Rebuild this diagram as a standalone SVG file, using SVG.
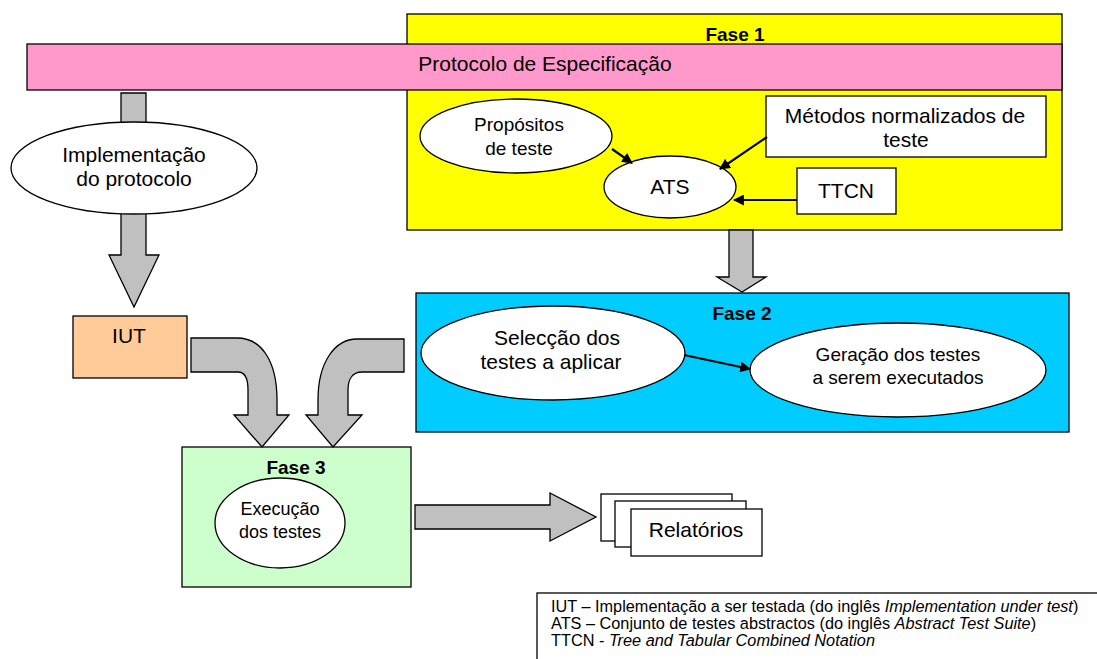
<svg xmlns="http://www.w3.org/2000/svg" width="1097" height="659" viewBox="0 0 1097 659">
<defs>
<style>
text{font-family:"Liberation Sans",Arial,sans-serif;fill:#000;text-anchor:middle}
.b{font-weight:bold;font-size:19px}
.t18{font-size:21px}
.t16{font-size:19px}
.t15{font-size:19px}
.t17{font-size:18px}
.box{stroke:#000;stroke-width:1.3}
.ell{fill:#fff;stroke:#000;stroke-width:1.3}
.big{fill:#C0C0C0;stroke:#000;stroke-width:1.3;stroke-linejoin:miter}
.con{stroke:#000;stroke-width:2.2;fill:none;marker-end:url(#ah)}
.leg{font-size:16.3px;text-anchor:start}
</style>
<marker id="ah" viewBox="0 0 10 10" refX="9" refY="5" markerWidth="5" markerHeight="5" orient="auto" markerUnits="strokeWidth">
<path d="M0,0 L10,5 L0,10 Z" fill="#000"/>
</marker>
</defs>
<rect width="1097" height="659" fill="#fff"/>

<g id="fase1">
<rect class="box" x="407" y="14" width="655" height="216" fill="#FFFF00"/>
<text class="b" x="735" y="41">Fase 1</text>
</g>

<g id="protocolo">
<rect class="box" x="27" y="44" width="1035" height="46" fill="#FF99CC"/>
<text class="t18" x="545" y="71">Protocolo de Especificação</text>
</g>

<g id="fase2">
<rect class="box" x="416" y="293" width="653" height="139" fill="#00CCFF"/>
<text class="b" x="742" y="320">Fase 2</text>
</g>

<g id="fase3">
<rect class="box" x="182" y="447" width="229" height="140" fill="#CCFFCC"/>
<text class="b" x="296" y="474">Fase 3</text>
</g>

<g id="big-arrows">
<path class="big" d="M121,93 H146 V255 H159 L134,307 L109,255 H121 Z"/>
<path class="big" d="M729,230 H753 V277 H766 L742,292 L717,277 H729 Z"/>
<path class="big" d="M415,505 H550 V493 L596,517 L550,541 V529 H415 Z"/>
<path class="big" d="M191,338 H237 C262,338 277,362 277,400 V415 H289 L262,447 L234,415 H248 V390 C248,380 246,372 238,372 H191 Z"/>
<path class="big" d="M404,339 V372 H362 C352,372 348,380 348,390 V415 H362 L333,447 L306,415 H318 V400 C318,362 335,339 357,339 Z"/>
</g>

<g id="implementacao">
<ellipse class="ell" cx="134" cy="168" rx="123" ry="46"/>
<text class="t18" x="134" y="162">Implementação</text>
<text class="t18" x="134" y="186">do protocolo</text>
</g>

<g id="iut">
<rect class="box" x="73" y="316" width="114" height="62" fill="#FFCC99"/>
<text class="t18" x="129" y="343">IUT</text>
</g>

<g id="propositos">
<ellipse class="ell" cx="516" cy="136" rx="96" ry="37"/>
<text class="t15" x="519" y="131">Propósitos</text>
<text class="t15" x="519" y="155">de teste</text>
</g>

<g id="ats">
<ellipse class="ell" cx="670" cy="187" rx="66" ry="31"/>
<text class="t18" x="670" y="194">ATS</text>
</g>

<g id="metodos">
<rect class="box" x="766" y="96" width="280" height="61" fill="#fff"/>
<text class="t18" x="905" y="123">Métodos normalizados de</text>
<text class="t18" x="906" y="147">teste</text>
</g>

<g id="ttcn">
<rect class="box" x="797" y="168" width="99" height="46" fill="#fff"/>
<text class="t18" x="846" y="198">TTCN</text>
</g>

<g id="seleccao">
<ellipse class="ell" cx="553" cy="353" rx="132" ry="47"/>
<text class="t18" x="557" y="345">Selecção dos</text>
<text class="t18" x="551" y="369">testes a aplicar</text>
</g>

<g id="geracao">
<ellipse class="ell" cx="898" cy="370" rx="148" ry="47"/>
<text class="t16" x="898" y="361">Geração dos testes</text>
<text class="t16" x="898" y="384">a serem executados</text>
</g>

<g id="execucao">
<ellipse class="ell" cx="280" cy="523" rx="65" ry="45"/>
<text class="t17" x="280" y="515">Execução</text>
<text class="t17" x="280" y="538">dos testes</text>
</g>

<g id="relatorios">
<rect class="box" x="601" y="494" width="131" height="47" fill="#fff"/>
<rect class="box" x="615" y="501" width="131" height="46" fill="#fff"/>
<rect class="box" x="631" y="509" width="131" height="47" fill="#fff"/>
<text class="t18" x="696" y="537">Relatórios</text>
</g>

<g id="connectors">
<path class="con" d="M612,149 L632,163"/>
<path class="con" d="M767,137 L720,169"/>
<path class="con" d="M797,200 L734,200"/>
<path class="con" d="M684,355 L750,369"/>
</g>

<g id="legenda">
<rect class="box" x="537" y="593" width="580" height="80" fill="#fff"/>
<text class="leg" x="551" y="612">IUT – Implementação a ser testada (do inglês <tspan font-style="italic">Implementation under test</tspan>)</text>
<text class="leg" x="551" y="629">ATS – Conjunto de testes abstractos (do inglês <tspan font-style="italic">Abstract Test Suite</tspan>)</text>
<text class="leg" x="551" y="646">TTCN - <tspan font-style="italic">Tree and Tabular Combined Notation</tspan></text>
</g>
</svg>
